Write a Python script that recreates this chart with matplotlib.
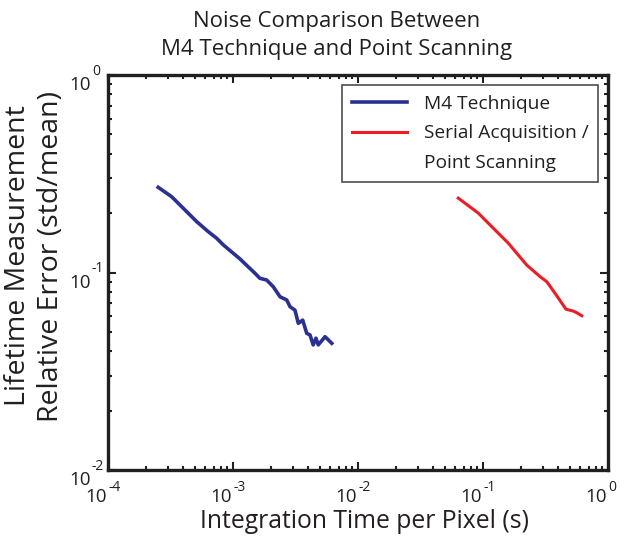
import math
import matplotlib
matplotlib.use("Agg")
import matplotlib.pyplot as plt
from matplotlib.lines import Line2D
from matplotlib.ticker import LogLocator, NullFormatter, FixedLocator

plt.rcParams['font.family'] = ['Open Sans', 'DejaVu Sans']

# M4 Technique
m4_time = [2.52e-4, 3.23e-4, 4.27e-4, 5.12e-4, 6.34e-4, 7.41e-4, 8.36e-4, 9.77e-4,
           1.14e-3, 1.32e-3, 1.50e-3, 1.64e-3, 1.86e-3, 2.10e-3, 2.38e-3, 2.69e-3,
           2.86e-3, 3.13e-3, 3.33e-3, 3.61e-3, 3.89e-3, 4.13e-3, 4.38e-3, 4.61e-3,
           4.81e-3, 5.45e-3, 6.17e-3]
m4_err = [0.270, 0.242, 0.203, 0.181, 0.161, 0.149, 0.138, 0.127,
          0.117, 0.107, 0.0991, 0.0935, 0.0916, 0.0847, 0.0753, 0.0726,
          0.0671, 0.0645, 0.0553, 0.0574, 0.0492, 0.0483, 0.0430, 0.0465,
          0.0430, 0.0473, 0.0438]

# Serial acquisition / point scanning
ps_time = [0.0634, 0.0916, 0.114, 0.159, 0.224, 0.286, 0.324, 0.377, 0.461, 0.527, 0.562, 0.617]
ps_err = [0.238, 0.200, 0.174, 0.141, 0.109, 0.0953, 0.0898, 0.0785, 0.0652, 0.0638, 0.0626, 0.0604]

x_ticks = [1e-4, 1e-3, 1e-2, 1e-1, 1e0]
y_ticks = [1e-2, 1e-1, 1e0]

labels = ['M4 Technique', 'Serial Acquisition /', 'Point Scanning']
title_lines = ['Noise Comparison Between', 'M4 Technique and Point Scanning']
xlabel = 'Integration Time per Pixel (s)'
ylabel_lines = ['Lifetime Measurement', 'Relative Error (std/mean)']

INK = '#231f20'
BLUE = '#2b3192'
RED = '#ed1c24'
W, H = 624, 542

fig = plt.figure(figsize=(W / 100, H / 100), dpi=100)
ax = fig.add_axes([108 / W, 1 - 470 / H, 500 / W, 395 / H])

l1, = ax.plot(m4_time, m4_err, color=BLUE, lw=2.6)
l2, = ax.plot(ps_time, ps_err, color=RED, lw=2.2)
ax.set_xscale('log')
ax.set_yscale('log')
ax.set_xlim(x_ticks[0], x_ticks[-1])
ax.set_ylim(y_ticks[0], y_ticks[-1])

ax.xaxis.set_major_locator(FixedLocator(x_ticks))
ax.yaxis.set_major_locator(FixedLocator(y_ticks))
ax.xaxis.set_minor_locator(LogLocator(base=10, subs=range(2, 10), numticks=10))
ax.yaxis.set_minor_locator(LogLocator(base=10, subs=range(2, 10), numticks=10))
for a in (ax.xaxis, ax.yaxis):
    a.set_major_formatter(NullFormatter())
    a.set_minor_formatter(NullFormatter())

ax.tick_params(which='both', direction='in', top=True, right=True, width=1.5, colors=INK)
ax.tick_params(which='major', length=6)
ax.tick_params(which='minor', length=3)
for s in ax.spines.values():
    s.set_linewidth(2.4)
    s.set_color(INK)

# MATLAB-style tick labels: "10" with exponent to the upper right
px = 0.72  # points per pixel at 100 dpi
BASE_FS, EXP_FS = 13.5, 10
for t in x_ticks:
    e = int(round(math.log10(t)))
    ax.annotate('10', xy=(t, 0), xycoords=('data', 'axes fraction'),
                xytext=(-1 * px, -32 * px), textcoords='offset points',
                ha='right', va='baseline', fontsize=BASE_FS, color=INK, annotation_clip=False)
    ax.annotate(str(e), xy=(t, 0), xycoords=('data', 'axes fraction'),
                xytext=(0.5 * px, -21 * px), textcoords='offset points',
                ha='left', va='baseline', fontsize=EXP_FS, color=INK, annotation_clip=False)
for t in y_ticks:
    e = int(round(math.log10(t)))
    ax.annotate('10', xy=(0, t), xycoords=('axes fraction', 'data'),
                xytext=(-17 * px, -15 * px), textcoords='offset points',
                ha='right', va='baseline', fontsize=BASE_FS, color=INK, annotation_clip=False)
    ax.annotate(str(e), xy=(0, t), xycoords=('axes fraction', 'data'),
                xytext=(-16 * px, 0), textcoords='offset points',
                ha='left', va='baseline', fontsize=EXP_FS, color=INK, annotation_clip=False)

# Title (two lines)
fig.text(337 / W, 1 - 27 / H, title_lines[0], ha='center', va='baseline', fontsize=16, color=INK)
fig.text(337 / W, 1 - 55 / H, title_lines[1], ha='center', va='baseline', fontsize=16, color=INK)

# X label
fig.text(365 / W, 1 - 528 / H, xlabel, ha='center', va='baseline', fontsize=17.8, color=INK)

# Y label (two rotated lines)
fig.text(25 / W, 1 - 256 / H, ylabel_lines[0], rotation=90, rotation_mode='anchor',
         ha='center', va='baseline', fontsize=20.5, color=INK)
fig.text(58 / W, 1 - 256 / H, ylabel_lines[1], rotation=90, rotation_mode='anchor',
         ha='center', va='baseline', fontsize=20.5, color=INK)

# Legend: the second series' label wraps onto a line with no handle
blank = Line2D([], [], color='none')
leg = ax.legend([l1, l2, blank], labels, loc='upper right',
                bbox_to_anchor=((598 - 108) / 500, (470 - 85) / 395),
                borderaxespad=0, fontsize=13.8, frameon=True, fancybox=False,
                edgecolor=INK, handlelength=2.9, handletextpad=0.85, borderpad=0.5,
                labelspacing=0.62)
leg.get_frame().set_linewidth(1.2)
for t in leg.get_texts():
    t.set_color(INK)

fig.savefig('out.png', dpi=100)
